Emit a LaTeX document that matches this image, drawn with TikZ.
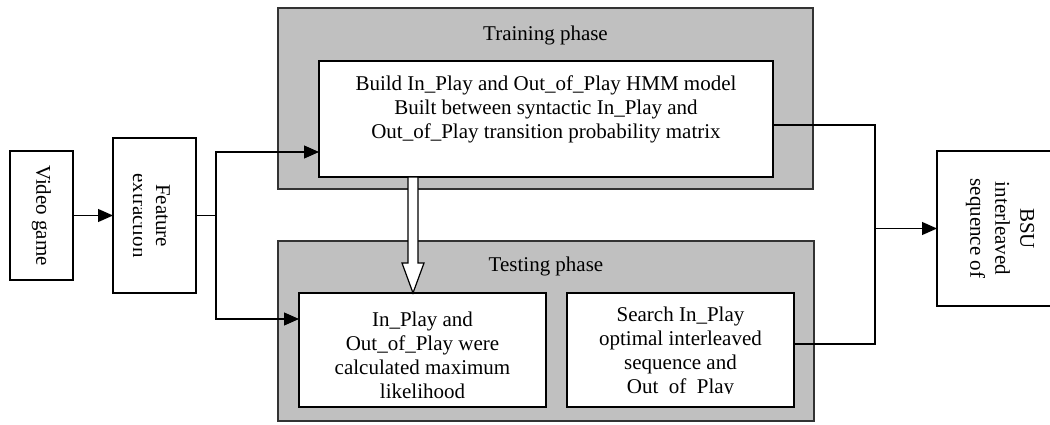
\documentclass[tikz,border=0pt]{standalone}
\usepackage{fontspec}
\setmainfont{Liberation Serif}
\usetikzlibrary{arrows.meta,calc}
\definecolor{phasegray}{RGB}{192,192,192}
\begin{document}
\begin{tikzpicture}[x=1pt,y=-1pt,
  every node/.style={font=\fontsize{21}{24}\selectfont, inner sep=0pt, outer sep=0pt},
  phase/.style={draw=black!80, line width=1.2pt, fill=phasegray, rectangle, anchor=north west},
  whitebox/.style={draw=black, line width=1.8pt, fill=white, rectangle, anchor=north west},
  conn/.style={draw=black, line width=1.1pt},
  arr/.style={-{Triangle[length=15pt,width=13pt]}},
  hollow/.style={draw=black, line width=1.2pt, fill=white, line join=miter}]
\useasboundingbox (0,0) rectangle (1050,424);

% phase backgrounds
\node[phase, minimum width=535pt, minimum height=181pt] (trainbg) at (278,8) {};
\node[phase, minimum width=536pt, minimum height=180pt] (testbg) at (278,241) {};
\node (trainlbl) at (545.5,35) {Training phase};
\node (testlbl) at (546,266) {Testing phase};

% boxes
\node[whitebox, minimum width=63pt, minimum height=129pt] (video) at (10,151) {};
\node[whitebox, minimum width=83pt, minimum height=155pt] (feat) at (113,138) {};
\node[whitebox, minimum width=454pt, minimum height=116pt] (trainw) at (319,61) {};
\node[whitebox, minimum width=247pt, minimum height=114pt] (testl) at (299,293) {};
\node[whitebox, minimum width=227pt, minimum height=114pt] (testr) at (567,293) {};
\node[whitebox, minimum width=125pt, minimum height=155pt] (bsu) at (937,151) {};

% texts
\node[rotate=-90] (videot) at (video.center) {Video game};
\node[rotate=-90, anchor=base] (featt1) at (156,215.5) {Feature};
\begin{scope}
  \clip (115,140) rectangle (141.5,291);
  \node[rotate=-90, anchor=base] (featt2) at (133,215.5) {extraction};
\end{scope}
\node[align=center] (trainwt) at (546,109) {Build In\_Play and Out\_of\_Play HMM model\\Built between syntactic In\_Play and\\Out\_of\_Play transition probability matrix};
\node[align=center] (testlt) at (422.5,355) {In\_Play and\\Out\_of\_Play were\\calculated maximum\\likelihood};
\begin{scope}
  \clip (570,296) rectangle (791,393.5);
  \node[align=center] (testrt) at (680.5,352.6) {Search In\_Play\\optimal interleaved\\sequence and\\Out\_of\_Play};
\end{scope}
\node[rotate=-90, align=center, font=\fontsize{21}{25}\selectfont] (bsut) at (1000,228.5) {BSU\\interleaved\\sequence of};

% connectors
\draw[conn, arr] (video) -- (feat);
\coordinate (br) at (216,215.5);
\draw[conn] (feat.east) -- (br);
\draw[conn, arr] (br) |- ($(trainw.west)+(0,33)$);
\draw[conn, arr] (br) |- ($(testl.west)+(0,-31)$);
\coordinate (rj) at (875,228.5);
\draw[conn] ($(trainw.east)+(0,6)$) -| (rj);
\draw[conn] ($(testr.east)+(0,-6)$) -| (rj);
\draw[conn, arr] (rj) -- (bsu.west);

% hollow arrow
\coordinate (hs) at ($(trainw.south west)+(94,0)$);
\coordinate (he) at (hs |- testl.north);
\draw[hollow] ($(hs)+(-5,0)$) -- ($(he)+(-5,-30)$) -- ($(he)+(-11,-30)$) -- (he)
  -- ($(he)+(11,-30)$) -- ($(he)+(5,-30)$) -- ($(hs)+(5,0)$) -- cycle;
\end{tikzpicture}
\end{document}
